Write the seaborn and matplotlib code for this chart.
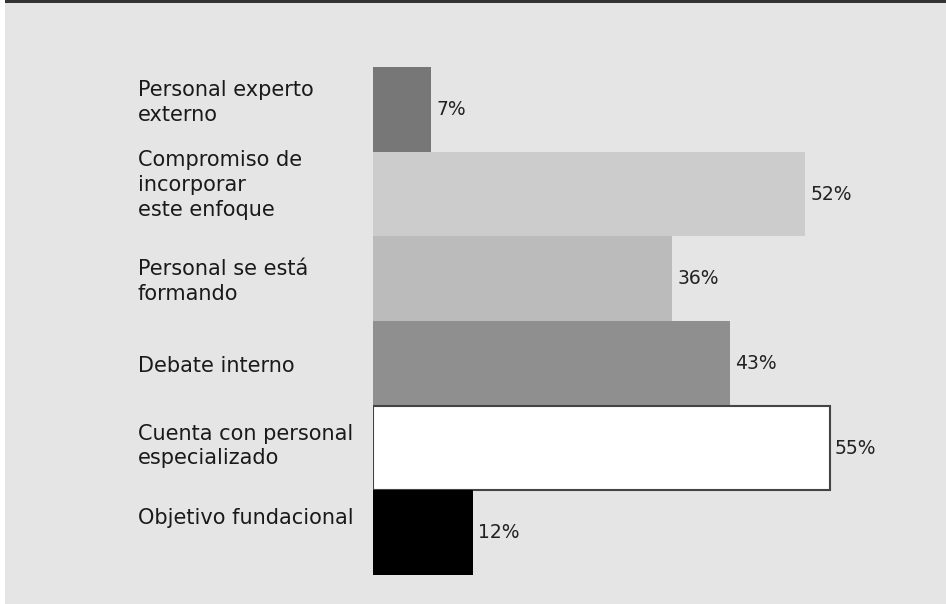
import matplotlib
matplotlib.use("Agg")
import matplotlib.pyplot as plt
from matplotlib.patches import Rectangle
import seaborn as sns
import pandas as pd

# Survey answers and share of organisations (%)
categories = [
    "Personal experto\nexterno",
    "Compromiso de\nincorporar\neste enfoque",
    "Personal se está\nformando",
    "Debate interno",
    "Cuenta con personal\nespecializado",
    "Objetivo fundacional",
]
values = [7, 52, 36, 43, 55, 12]
bar_colors = ["#777777", "#cccccc", "#bbbbbb", "#8f8f8f", "#ffffff", "#000000"]

# small vertical nudges (pixels, positive = up) for the category captions
caption_nudge = [7, 9, -3, -3, 2, 15]

sns.set_theme(style="white")
plt.rcParams["font.family"] = ["DejaVu Sans"]

BG = "#e5e5e5"
W, H, DPI = 946, 604, 100
fig = plt.figure(figsize=(W / DPI, H / DPI), dpi=DPI, facecolor=BG)

# thin white strip on the left and dark rule along the top
fig.patches.append(Rectangle((0, 0), 5 / W, 1, transform=fig.transFigure,
                             facecolor="white", edgecolor="none", zorder=0))
fig.patches.append(Rectangle((5 / W, 1 - 2.5 / H), 1, 2.5 / H, transform=fig.transFigure,
                             facecolor="#333333", edgecolor="none", zorder=0))

left_px, top_px, bottom_px = 373, 67, 575
ax = fig.add_axes([left_px / W, (H - bottom_px) / H, (W - left_px) / W,
                   (bottom_px - top_px) / H])
ax.set_facecolor(BG)

df = pd.DataFrame({"cat": categories, "val": values})
sns.barplot(data=df, x="val", y="cat", hue="cat", palette=bar_colors,
            orient="h", width=1.0, legend=False, ax=ax, saturation=1)

px_per_unit = 8.3
ax.set_xlim(0, (W - left_px) / px_per_unit)
ax.set_ylim(len(categories) - 0.5, -0.5)

for patch in ax.patches:
    patch.set_linewidth(0)
# the white bar carries a dark outline
for container, col in zip(ax.containers, bar_colors):
    for patch in container:
        if col.lower() == "#ffffff":
            patch.set_edgecolor("#444444")
            patch.set_linewidth(1.5)
    ax.bar_label(container, fmt="{:.0f}%", padding=4, fontsize=13.5,
                 color="#222222")

ax.set_xticks([])
ax.set_yticks([])
ax.set_xlabel("")
ax.set_ylabel("")
for s in ax.spines.values():
    s.set_visible(False)

# category captions, left aligned in the margin
for i, (cat, dy) in enumerate(zip(categories, caption_nudge)):
    ax.annotate(cat, xy=(138 / W, i), xycoords=(fig.transFigure, ax.transData),
                xytext=(0, dy), textcoords="offset pixels",
                ha="left", va="center", fontsize=15, color="#1a1a1a",
                linespacing=1.3, annotation_clip=False)

fig.savefig("out.png", dpi=DPI, facecolor=BG)
